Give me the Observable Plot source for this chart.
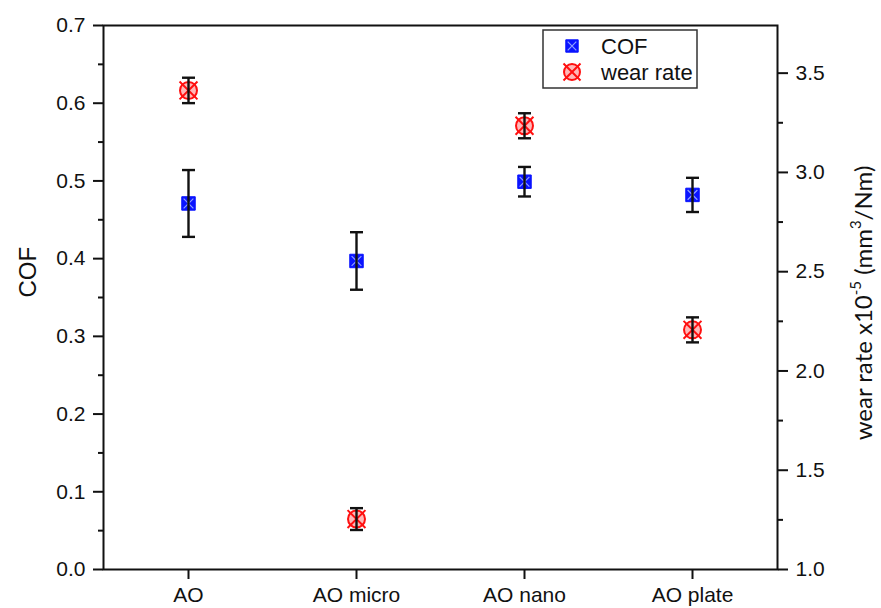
<!DOCTYPE html>
<html><head><meta charset="utf-8">
<script src="https://cdn.jsdelivr.net/npm/d3@7"></script>
<script src="https://cdn.jsdelivr.net/npm/@observablehq/plot@0.6"></script>
<style>
body{margin:0;background:#fff;}
#wrap{position:relative;width:881px;height:608px;}
</style></head><body><div id="wrap"></div>
<script>
const categories = ["AO", "AO micro", "AO nano", "AO plate"];
const cofValues = [0.471, 0.397, 0.499, 0.482];
const cofErrors = [0.043, 0.037, 0.019, 0.022];
const wearValues = [3.413, 1.254, 3.235, 2.207];
const wearErrors = [0.064, 0.055, 0.063, 0.063];
const cofTicks = [0.0, 0.1, 0.2, 0.3, 0.4, 0.5, 0.6, 0.7];
const cofMinorTicks = [0.05, 0.15, 0.25, 0.35, 0.45, 0.55, 0.65];
const wearTicks = [1.0, 1.5, 2.0, 2.5, 3.0, 3.5];
const wearMinorTicks = [1.25, 1.75, 2.25, 2.75, 3.25];
const cofDomain = [0, 0.7];
const wearDomain = [1.0, 3.74];
const legendLabels = ["COF", "wear rate"];

// map right-axis (wear) values onto the left (COF) scale
const toCof = w => (w - wearDomain[0]) / (wearDomain[1] - wearDomain[0]) * (cofDomain[1] - cofDomain[0]) + cofDomain[0];
const toWear = c => (c - cofDomain[0]) / (cofDomain[1] - cofDomain[0]) * (wearDomain[1] - wearDomain[0]) + wearDomain[0];

const cofData = categories.map((c, i) => ({cat: c, v: cofValues[i], lo: cofValues[i] - cofErrors[i], hi: cofValues[i] + cofErrors[i]}));
const wearData = categories.map((c, i) => ({cat: c, v: toCof(wearValues[i]), lo: toCof(wearValues[i] - wearErrors[i]), hi: toCof(wearValues[i] + wearErrors[i])}));

const cap = {draw(ctx, size) { const w = Math.sqrt(size / Math.PI); ctx.moveTo(-w, 0); ctx.lineTo(w, 0); }};

const FONT = "'Liberation Sans', Arial, sans-serif";

const svg = Plot.plot({
  width: 881, height: 608,
  marginLeft: 103, marginRight: 104, marginTop: 25, marginBottom: 39,
  style: {fontFamily: FONT, background: "#fff", color: "#111"},
  x: {type: "point", domain: categories, padding: 0.5},
  y: {domain: cofDomain},
  marks: [
    Plot.axisY(cofTicks, {anchor: "left", tickSize: 10, strokeWidth: 2, tickPadding: 8, fontSize: 21, tickFormat: d => d.toFixed(1), label: null, stroke: "#111"}),
    Plot.axisY(cofMinorTicks, {anchor: "left", tickSize: 5, strokeWidth: 2, tickFormat: () => "", label: null, stroke: "#111"}),
    Plot.axisY(wearTicks.map(toCof), {anchor: "right", tickSize: 10, strokeWidth: 2, tickPadding: 8, fontSize: 21, tickFormat: d => toWear(d).toFixed(1), label: null, stroke: "#111"}),
    Plot.axisY(wearMinorTicks.map(toCof), {anchor: "right", tickSize: 5, strokeWidth: 2, tickFormat: () => "", label: null, stroke: "#111"}),
    Plot.axisX({tickSize: 10, strokeWidth: 2, tickPadding: 8, fontSize: 21, label: null, stroke: "#111"}),
    Plot.frame({stroke: "#111", strokeWidth: 2}),
    // COF markers
    Plot.dot(cofData, {x: "cat", y: "v", symbol: "square", r: 7.6, fill: "#0a14ff", stroke: "#0a14ff", strokeWidth: 1}),
    Plot.dot(cofData, {x: "cat", y: "v", symbol: "times", r: 4.5, stroke: "#8fa0ff", strokeWidth: 1.2}),
    // wear markers
    Plot.dot(wearData, {x: "cat", y: "v", symbol: "circle", r: 8.5, fill: "#ffb8b8", stroke: "#ff1010", strokeWidth: 2}),
    Plot.dot(wearData, {x: "cat", y: "v", symbol: "times", r: 8.2, stroke: "#ff1010", strokeWidth: 2}),
    // error bars
    Plot.ruleX(cofData, {x: "cat", y1: "lo", y2: "hi", stroke: "#111", strokeWidth: 2.4}),
    Plot.dot(cofData, {x: "cat", y: "lo", symbol: cap, r: 6.5, stroke: "#111", strokeWidth: 2.4}),
    Plot.dot(cofData, {x: "cat", y: "hi", symbol: cap, r: 6.5, stroke: "#111", strokeWidth: 2.4}),
    Plot.ruleX(wearData, {x: "cat", y1: "lo", y2: "hi", stroke: "#111", strokeWidth: 2.4}),
    Plot.dot(wearData, {x: "cat", y: "lo", symbol: cap, r: 6.5, stroke: "#111", strokeWidth: 2.4}),
    Plot.dot(wearData, {x: "cat", y: "hi", symbol: cap, r: 6.5, stroke: "#111", strokeWidth: 2.4}),
    // left axis title
    Plot.text(["COF"], {frameAnchor: "left", dx: -75, rotate: -90, fontSize: 24, fill: "#111"})
  ]
});

const s = d3.select(svg);
// right axis title with superscripts
const t = s.append("text")
  .attr("transform", "translate(866,303) rotate(-90)")
  .attr("text-anchor", "middle")
  .attr("dominant-baseline", "middle")
  .style("font-family", "Lato, 'Open Sans', sans-serif")
  .style("font-size", "24px")
  .attr("fill", "#111");
t.append("tspan").text("wear rate x10");
t.append("tspan").attr("dy", -9).style("font-size", "15px").text("-5");
t.append("tspan").attr("dy", 9).text(" (mm");
t.append("tspan").attr("dy", -9).style("font-size", "15px").text("3");
t.append("tspan").attr("dy", 9).text("/Nm)");

// legend
const lg = s.append("g");
lg.append("rect").attr("x", 543).attr("y", 30).attr("width", 154).attr("height", 58)
  .attr("fill", "#fff").attr("stroke", "#333").attr("stroke-width", 1.5);
const rows = [46, 72];
const sq = d3.symbol(d3.symbolSquare, Math.PI * 7 * 7)();
const tm = (r) => d3.symbol(d3.symbolTimes, Math.PI * r * r)();
const ci = d3.symbol(d3.symbolCircle, Math.PI * 8 * 8)();
const g1 = lg.append("g").attr("transform", `translate(572,${rows[0]})`);
g1.append("path").attr("d", sq).attr("fill", "#0a14ff").attr("stroke", "#0a14ff");
g1.append("path").attr("d", tm(4)).attr("fill", "none").attr("stroke", "#8fa0ff").attr("stroke-width", 1.2);
const g2 = lg.append("g").attr("transform", `translate(572,${rows[1]})`);
g2.append("path").attr("d", ci).attr("fill", "#ffb8b8").attr("stroke", "#ff1010").attr("stroke-width", 2);
g2.append("path").attr("d", tm(7.8)).attr("fill", "none").attr("stroke", "#ff1010").attr("stroke-width", 2);
legendLabels.forEach((lab, i) => {
  lg.append("text").attr("x", 601).attr("y", rows[i]).attr("dy", "0.35em")
    .attr("text-anchor", "start")
    .style("font-family", FONT).style("font-size", "22px").attr("fill", "#111").text(lab);
});

document.getElementById("wrap").appendChild(svg);
</script>
</body></html>
